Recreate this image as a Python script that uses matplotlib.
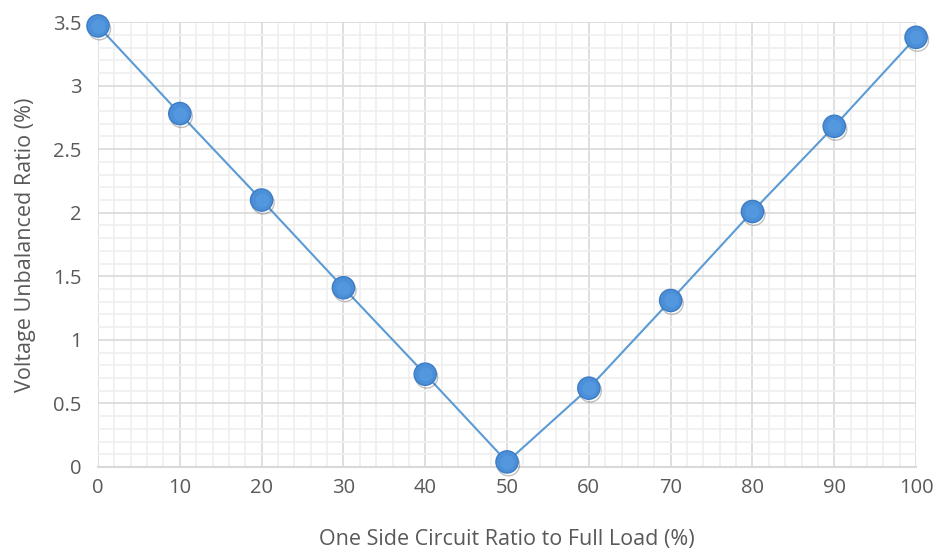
import matplotlib
matplotlib.use("Agg")
import matplotlib.pyplot as plt
from matplotlib.ticker import MultipleLocator
import matplotlib.patheffects as pe

plt.rcParams['font.family'] = ['Open Sans', 'DejaVu Sans']

load_ratio = [0, 10, 20, 30, 40, 50, 60, 70, 80, 90, 100]
unbalance = [3.47, 2.78, 2.10, 1.41, 0.73, 0.04, 0.62, 1.31, 2.01, 2.68, 3.38]
y_ticks = [0, 0.5, 1, 1.5, 2, 2.5, 3, 3.5]
y_tick_labels = ['0', '0.5', '1', '1.5', '2', '2.5', '3', '3.5']

fig = plt.figure(figsize=(9.36, 5.52), dpi=100)
ax = fig.add_axes([0.1047, 0.154, 0.874, 0.806])

ax.set_xlim(0, 100)
ax.set_ylim(0, 3.5)
ax.xaxis.set_major_locator(MultipleLocator(10))
ax.xaxis.set_minor_locator(MultipleLocator(2))
ax.yaxis.set_minor_locator(MultipleLocator(0.1))
ax.set_yticks(y_ticks)
ax.set_yticklabels(y_tick_labels)

ax.grid(which='minor', color='#efefef', linewidth=1.2)
ax.grid(which='major', color='#d9d9d9', linewidth=1.2)
ax.set_axisbelow(True)
for s in ['top', 'right', 'left']:
    ax.spines[s].set_visible(False)
ax.spines['bottom'].set_color('#d9d9d9')
ax.spines['bottom'].set_linewidth(1.5)

ax.tick_params(which='both', length=0, labelsize=14.5, colors='#595959')
ax.tick_params(axis='x', pad=8)
ax.tick_params(axis='y', pad=12)

# connecting line
ax.plot(load_ratio, unbalance, color='#5b9bd5', linewidth=1.5, zorder=3, clip_on=False)
# markers with a soft drop shadow
ax.plot(load_ratio, unbalance, linestyle='none', marker='o', markersize=16,
        markerfacecolor='#4a8fd8', markeredgecolor='#3d7cc4', markeredgewidth=1.0,
        zorder=4, clip_on=False,
        path_effects=[pe.SimpleLineShadow(offset=(1.0, -2.0), shadow_color='#333333', alpha=0.3),
                      pe.Normal()])
# lighter centre for a slightly rounded look
ax.plot(load_ratio, unbalance, linestyle='none', marker='o', markersize=10,
        markerfacecolor='#5a9fe4', markeredgewidth=0, alpha=0.6,
        zorder=5, clip_on=False)

ax.set_xlabel('One Side Circuit Ratio to Full Load (%)', fontsize=15.5, color='#595959', labelpad=22)
ax.set_ylabel('Voltage Unbalanced Ratio (%)', fontsize=15.5, color='#595959', labelpad=12)

fig.savefig('out.png', dpi=100)
